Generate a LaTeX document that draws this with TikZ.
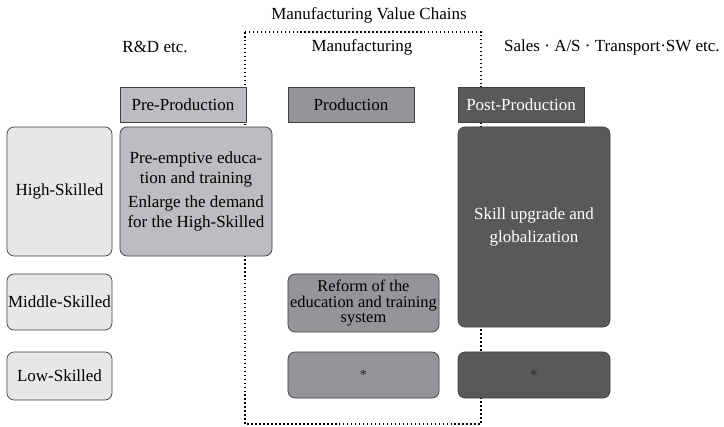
\documentclass[tikz,border=0pt]{standalone}
\usepackage{fontspec}
\setmainfont{Liberation Serif}
\definecolor{skillgray}{HTML}{E6E7E8}
\definecolor{pregray}{HTML}{BCBDC0}
\definecolor{prodgray}{HTML}{939598}
\definecolor{postgray}{HTML}{58595B}
\begin{document}
\begin{tikzpicture}[x=0.03cm,y=-0.03cm]
\tikzstyle{box}=[draw=black!75,line width=0.6pt,rounded corners=6pt,inner sep=0pt,align=center,font=\fontsize{14.5}{17}\selectfont]
\tikzstyle{head}=[draw=black!75,line width=0.6pt,inner sep=0pt,minimum width=3.78cm,minimum height=1.05cm,font=\fontsize{14.5}{17}\selectfont]
\tikzstyle{label}=[inner sep=0pt,font=\fontsize{14.5}{17}\selectfont]
\tikzstyle{chain}=[line width=1.3pt,dash pattern=on 1.3pt off 2.1pt]
\tikzstyle{star}=[text=black!85,font=\large]

\useasboundingbox (0,0) rectangle (724,427);

% value chain frame
\coordinate (vc-nw) at (245,32);
\coordinate (vc-se) at (481,424);
\draw[chain] (vc-nw) rectangle (vc-se);

\node[label] (title) at (369,15) {Manufacturing Value Chains};
\node[label] (rd) at (155,47) {R\&D etc.};
\node[label] (manu) at (362,47) {Manufacturing};
\node[label,anchor=west] (sales) at (504,47) {Sales {·} A/S {·} Transport{·}SW etc.};

% stages
\node[head,fill=pregray] (pre) at (183,104.5) {Pre-Production};
\node[head,fill=prodgray] (prod) at (351,104.5) {Production};
\node[head,fill=postgray,text=white] (post) at (521,104.5) {Post-Production};

% skill levels
\node[box,fill=skillgray,minimum width=3.15cm,minimum height=3.87cm] (high) at (59.5,191.5) {High-Skilled};
\node[box,fill=skillgray,minimum width=3.15cm,minimum height=1.68cm] (middle) at (59.5,302) {Middle-Skilled};
\node[box,fill=skillgray,minimum width=3.15cm,minimum height=1.44cm] (low) at (59.5,376) {Low-Skilled};

% measures
\node[box,fill=pregray,minimum width=4.56cm,minimum height=3.87cm] (pre-high) at (196,191.5)
  {Pre-emptive educa-\\tion and training\\[4pt]Enlarge the demand\\for the High-Skilled};
\node[box,fill=prodgray,minimum width=4.53cm,minimum height=1.74cm,font=\fontsize{14}{13}\selectfont] (prod-mid) at (363.5,303)
  {Reform of the\\education and training\\system};
\node[box,fill=prodgray,minimum width=4.53cm,minimum height=1.38cm] (prod-low) at (363.5,375) {};
\node[star] at (prod-low) {*};
\node[box,fill=postgray,text=white,minimum width=4.56cm,minimum height=6cm,font=\fontsize{14.5}{20}\selectfont] (post-high) at (534,227)
  {Skill upgrade and\\globalization};
\node[box,fill=postgray,minimum width=4.56cm,minimum height=1.38cm] (post-low) at (534,375) {};
\node[star] at (post-low) {*};

\end{tikzpicture}
\end{document}
